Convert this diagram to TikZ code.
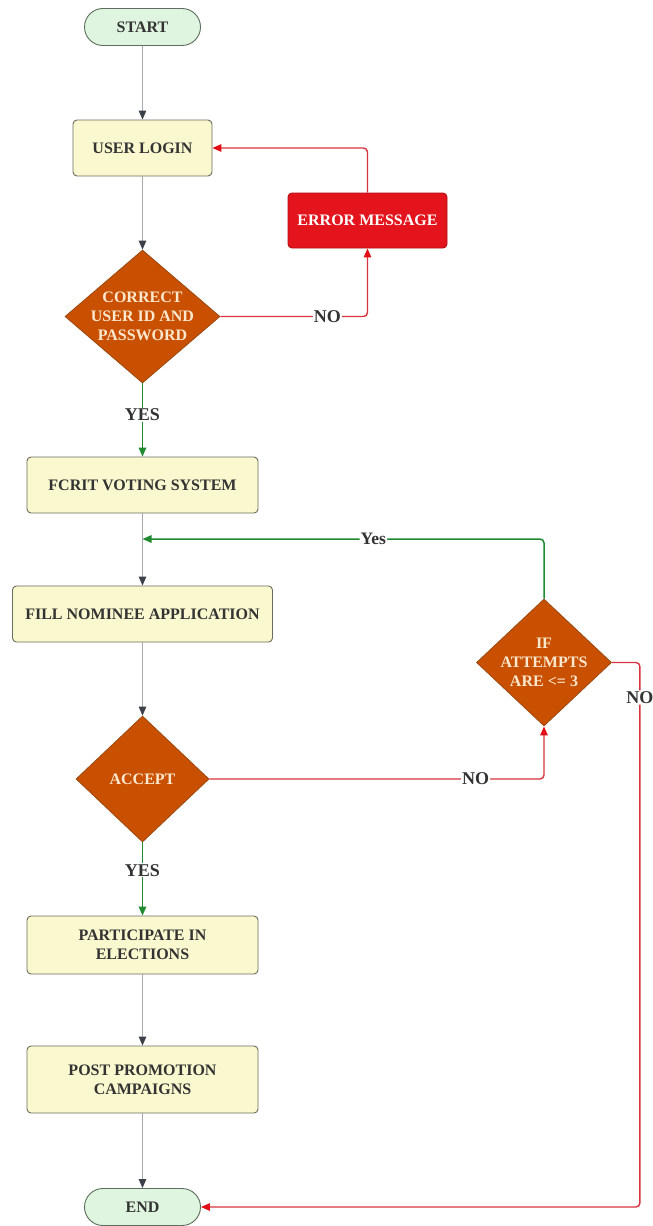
\documentclass[tikz,border=0pt]{standalone}
\usepackage{fontspec}
\setmainfont{Liberation Serif}
\usetikzlibrary{arrows.meta,shapes.geometric}
\definecolor{txt}{HTML}{333333}
\definecolor{termfill}{HTML}{DFF5DF}
\definecolor{termdraw}{HTML}{5E6E5E}
\definecolor{procfill}{HTML}{FAF8CE}
\definecolor{procdraw}{HTML}{6B6B5E}
\definecolor{decfill}{HTML}{C95000}
\definecolor{decdraw}{HTML}{9A4A10}
\definecolor{dectxt}{HTML}{FBE8CF}
\definecolor{errfill}{HTML}{E3141C}
\definecolor{errdraw}{HTML}{B01018}
\definecolor{grayline}{HTML}{A8A8B0}
\definecolor{grayhead}{HTML}{3C4048}
\definecolor{greenline}{HTML}{1F8A2F}
\definecolor{redline}{HTML}{D8333E}
\definecolor{redhead}{HTML}{E31017}
\tikzset{
  basefont/.style={font=\bfseries\fontsize{16}{19}\selectfont},
  terminal/.style={basefont, draw=termdraw, fill=termfill, text=txt, line width=0.9pt,
    minimum width=116, minimum height=37, rounded corners=18.5, inner sep=0},
  procbox/.style={basefont, draw=procdraw, fill=procfill, text=txt, line width=0.9pt,
    minimum width=231, minimum height=56, rounded corners=4, align=center, inner sep=0},
  errbox/.style={basefont, draw=errdraw, fill=errfill, text=white, line width=0.9pt,
    minimum width=159, minimum height=55, rounded corners=4, inner sep=0},
  decision/.style={diamond, draw=decdraw, fill=decfill, line width=0.8pt, inner sep=0},
  dectext/.style={basefont, text=dectxt, align=center, inner sep=0},
  lbl/.style={font=\bfseries\fontsize{18}{20}\selectfont, text=txt, fill=white, inner sep=1pt},
  grayarrow/.style={draw=grayline, line width=1.3pt, -{Triangle[length=9pt,width=7.5pt,color=grayhead]}},
  greenarrow/.style={draw=greenline, line width=1.5pt, -{Triangle[length=9pt,width=7.5pt,color=greenline]}},
  redarrow/.style={draw=redline, line width=1.4pt, rounded corners=4, -{Triangle[length=9pt,width=7.5pt,color=redhead]}},
  greenbend/.style={draw=greenline, line width=1.5pt, rounded corners=4, -{Triangle[length=9pt,width=7.5pt,color=greenline]}}
}
\begin{document}
\begin{tikzpicture}[x=1pt,y=-1pt]
\useasboundingbox (0,0) rectangle (653,1226);
\fill[white] (0,0) rectangle (653,1226);

\node[terminal] (start) at (142.5,27) {START};
\node[procbox, minimum width=139] (login) at (142.5,148) {USER LOGIN};
\node[errbox] (error) at (367.5,220.5) {ERROR MESSAGE};
\node[decision, minimum width=155, minimum height=133] (d1) at (142.5,316.5) {};
\node[dectext] (d1t) at (d1.center) {CORRECT\\USER ID AND\\PASSWORD};
\node[procbox] (fcrit) at (142.5,485) {FCRIT VOTING SYSTEM};
\node[procbox, minimum width=260] (fill) at (142.5,614) {FILL NOMINEE APPLICATION};
\node[decision, minimum width=135, minimum height=127] (d3) at (544,662.5) {};
\node[dectext] (d3t) at (d3.center) {IF\\ATTEMPTS\\ARE <= 3};
\node[decision, minimum width=133, minimum height=126] (d2) at (142.5,779) {};
\node[dectext] (d2t) at (d2.center) {ACCEPT};
\node[procbox, minimum height=58] (part) at (142.5,945) {PARTICIPATE IN\\ELECTIONS};
\node[procbox, minimum height=67] (post) at (142.5,1079.5) {POST PROMOTION\\CAMPAIGNS};
\node[terminal] (end) at (142.5,1207) {END};

\coordinate (j1) at (142.5,539);

% gray connectors
\draw[grayarrow] (start) -- (login);
\draw[grayarrow] (login) -- (d1);
\draw[grayarrow] (fcrit) -- (fill);
\draw[grayarrow] (fill) -- (d2);
\draw[grayarrow] (part) -- (post);
\draw[grayarrow] (post) -- (end);

% red connectors
\draw[redarrow] (d1.east) -| node[lbl, pos=0.364] (no1) {NO} (error.south);
\draw[redarrow] (error.north) |- (login.east);
\draw[redarrow] (d2.east) -| node[lbl, pos=0.398] (no2) {NO} (d3.south);
\draw[redarrow] (d3.east) -- ++(28,0) -- node[lbl] (no3) {NO} ++(0,70) |- (end.east);

% green connectors
\draw[greenarrow] (d1.south) -- node[lbl, pos=0.43] (yes1) {YES} (fcrit.north);
\draw[greenarrow] (d2.south) -- node[lbl, pos=0.38] (yes2) {YES} (part.north);
\draw[greenbend] (d3.north) |- node[lbl, pos=0.7125, font=\bfseries\fontsize{17.5}{20}\selectfont] (yes3) {Yes} (j1);
\end{tikzpicture}
\end{document}
